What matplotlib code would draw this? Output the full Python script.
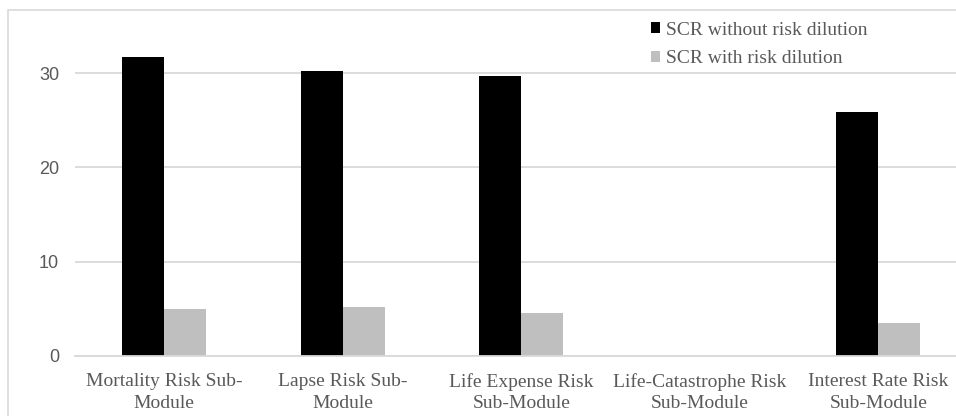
import numpy as np
import matplotlib.pyplot as plt
from matplotlib.patches import Rectangle

categories = ['Mortality Risk Sub-\nModule', 'Lapse Risk Sub-\nModule',
              'Life Expense Risk\nSub-Module', 'Life-Catastrophe Risk\nSub-Module',
              'Interest Rate Risk\nSub-Module']
scr_without = [31.7, 30.2, 29.7, 0.0, 25.9]
scr_with = [5.0, 5.2, 4.6, 0.0, 3.5]
series_names = ['SCR without risk dilution', 'SCR with risk dilution']

W, H = 956, 416
fig = plt.figure(figsize=(W / 100, H / 100), dpi=100)

# outer chart frame (picture is cropped on the right and bottom)
fig.patches.append(Rectangle((8 / W, -0.1), 1.2, 1.1 - 10 / H, transform=fig.transFigure,
                             fill=False, edgecolor='#d9d9d9', linewidth=1.2))

# plot area: category span 178.5 px, left at 75 px, zero line at y=356
left = 75 / W
width = 5 * 178.5 / W
bottom = (H - 356) / H
height = 35 * 9.43 / H
ax = fig.add_axes([left, bottom, width, height])

x = np.arange(len(categories))
bw = 0.235
ax.bar(x - bw / 2, scr_without, bw, color='#000000', label=series_names[0], zorder=3)
ax.bar(x + bw / 2, scr_with, bw, color='#bfbfbf', label=series_names[1], zorder=3)

ax.set_xlim(-0.5, len(categories) - 0.5)
ax.set_ylim(0, 35)
ax.set_yticks([0, 10, 20, 30])
ax.yaxis.grid(True, color='#d9d9d9', linewidth=1.3, zorder=0)
ax.set_xticks(x)
ax.set_xticklabels(categories, family='Liberation Serif', fontsize=14, color='#595959',
                   linespacing=1.32)
for lab in ax.get_yticklabels():
    lab.set_family('Liberation Sans')
    lab.set_fontsize(13)
    lab.set_color('#595959')
ax.tick_params(axis='both', length=0)
ax.tick_params(axis='x', pad=12.5)
ax.tick_params(axis='y', pad=11.5)
for s in ['top', 'right', 'left']:
    ax.spines[s].set_visible(False)
ax.spines['bottom'].set_color('#d9d9d9')
ax.spines['bottom'].set_linewidth(1.3)
ax.spines['bottom'].set_zorder(4)

leg = fig.legend(loc='upper left', bbox_to_anchor=(643 / W, 1 - 14 / H),
                 frameon=False, prop={'family': 'Liberation Serif', 'size': 14},
                 handlelength=0.48, handleheight=0.48, handletextpad=0.3,
                 labelspacing=0.6, borderaxespad=0)
for t in leg.get_texts():
    t.set_color('#595959')

fig.savefig('out.png', dpi=100)
